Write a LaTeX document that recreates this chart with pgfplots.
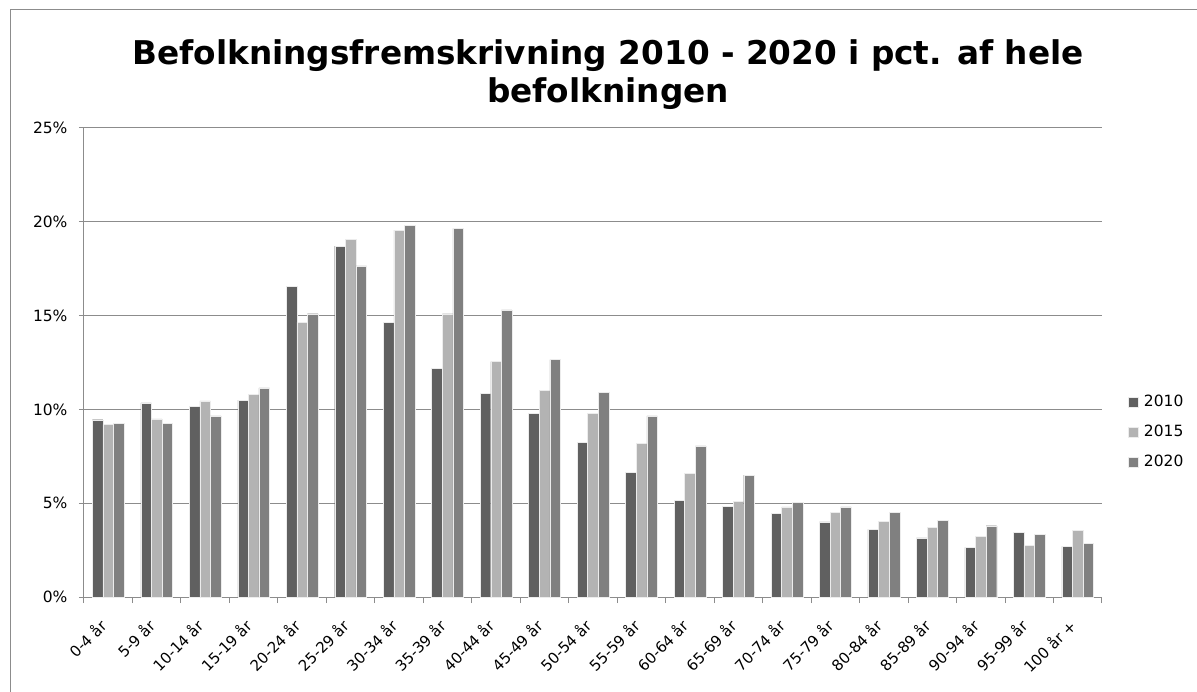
\documentclass[border=0pt]{standalone}
\usepackage{fontspec}
\setmainfont{DejaVu Sans}
\usepackage{pgfplots}
\pgfplotsset{compat=1.18}
\definecolor{cA}{HTML}{606060}
\definecolor{cB}{HTML}{B3B3B3}
\definecolor{cC}{HTML}{808080}
\definecolor{gridc}{HTML}{8C8C8C}
\begin{document}
\begin{tikzpicture}
\begin{axis}[
  name=a,
  scale only axis, width=1018pt, height=469pt,
  ybar=0pt, bar width=10.6pt,
  xmin=-0.5, xmax=20.5, ymin=0, ymax=25,
  axis lines*=left,
  axis line style={gridc, line width=1pt, -},
  ytick={0,5,10,15,20,25},
  yticklabels={0\%,5\%,10\%,15\%,20\%,25\%},
  ymajorgrids, grid style={gridc, line width=1pt},
  xtick={0,...,20},
  xticklabels={0-4 år,5-9 år,10-14 år,15-19 år,20-24 år,25-29 år,30-34 år,35-39 år,40-44 år,45-49 år,50-54 år,55-59 år,60-64 år,65-69 år,70-74 år,75-79 år,80-84 år,85-89 år,90-94 år,95-99 år,100 år +},
  minor xtick={-0.5,0.5,...,20.5},
  tick align=outside,
  major x tick style={draw=none},
  minor tick length=6pt, major tick length=5pt,
  tick style={gridc, line width=1pt},
  xticklabel style={rotate=45, anchor=north east, font=\fontsize{15}{17}\selectfont, inner sep=1pt, yshift=-3pt, xshift=-17pt},
  yticklabel style={font=\fontsize{15.5}{17}\selectfont, xshift=-8pt},
  legend style={draw=none, at={(1.022,0.352)}, anchor=west, font=\fontsize{15.5}{17}\selectfont, row sep=13pt, fill=none},
  legend cell align=left,
  legend image code/.code={\fill[#1] (0pt,-5pt) rectangle (10pt,5pt); \path (14pt,0pt);},
]
\addplot[fill=cA, draw=white!85!gray, line width=0.4pt] coordinates {(0,9.45) (1,10.35) (2,10.15) (3,10.5) (4,16.55) (5,18.7) (6,14.65) (7,12.2) (8,10.85) (9,9.8) (10,8.25) (11,6.65) (12,5.15) (13,4.85) (14,4.45) (15,4.0) (16,3.6) (17,3.15) (18,2.65) (19,3.45) (20,2.7)};
\addplot[fill=cB, draw=white!85!gray, line width=0.4pt] coordinates {(0,9.2) (1,9.5) (2,10.45) (3,10.8) (4,14.65) (5,19.05) (6,19.55) (7,15.1) (8,12.55) (9,11.0) (10,9.8) (11,8.2) (12,6.6) (13,5.1) (14,4.8) (15,4.5) (16,4.05) (17,3.7) (18,3.25) (19,2.75) (20,3.55)};
\addplot[fill=cC, draw=white!85!gray, line width=0.4pt] coordinates {(0,9.25) (1,9.25) (2,9.65) (3,11.15) (4,15.1) (5,17.65) (6,19.8) (7,19.65) (8,15.3) (9,12.65) (10,10.9) (11,9.65) (12,8.05) (13,6.5) (14,5.05) (15,4.8) (16,4.5) (17,4.1) (18,3.8) (19,3.35) (20,2.85)};
\legend{2010,2015,2020}
\end{axis}
\pgfresetboundingbox
\begin{scope}[shift={(a.south west)}, x=1pt, y=1pt]
\path[use as bounding box] (-84,-94) rectangle (1113,597);
\draw[gridc,line width=1pt] (-73,-110) -- (-73,587) -- (1130,587);
\node[font=\fontsize{32.7}{40}\selectfont\bfseries,anchor=base] at (524,532) {Befolkningsfremskrivning 2010 - 2020 i pct. af hele};
\node[font=\fontsize{32.7}{40}\selectfont\bfseries,anchor=base] at (524,494) {befolkningen};
\end{scope}
\end{tikzpicture}
\end{document}
